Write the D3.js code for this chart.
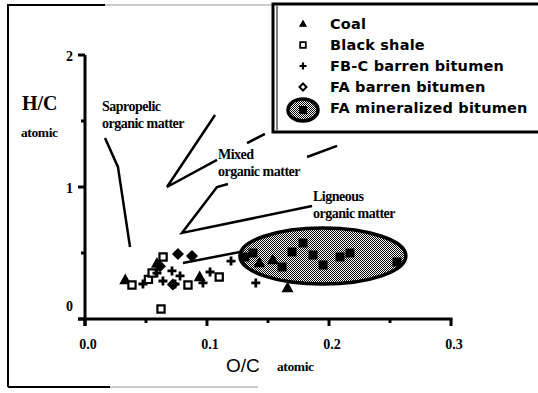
<!DOCTYPE html>
<html>
<head>
<meta charset="utf-8">
<script src="https://cdn.jsdelivr.net/npm/d3@7"></script>
<style>
  body { margin: 0; background: #fff; }
  svg { display: block; }
  .serif { font-family: "Liberation Serif", "DejaVu Serif", serif; font-weight: bold; }
  .sans { font-family: "Liberation Sans", Arial, sans-serif; }
  .chicago { font-family: "DejaVu Sans", sans-serif; font-weight: bold; }
</style>
</head>
<body>
<figure id="chart" style="margin:0"></figure>
<script>
// O/C atomic (x) vs H/C atomic (y)
const coal = [[0.033, 0.295], [0.059, 0.42], [0.094, 0.318], [0.166, 0.235], [0.143, 0.424], [0.154, 0.447]];
const blackShale = [[0.0385, 0.258], [0.052, 0.30], [0.055, 0.348], [0.064, 0.47], [0.0844, 0.258], [0.110, 0.318], [0.0623, 0.076]];
const fbcBarren = [[0.0475, 0.265], [0.059, 0.348], [0.0713, 0.364], [0.0779, 0.326], [0.0639, 0.288], [0.0738, 0.265], [0.0967, 0.273], [0.1025, 0.356], [0.1197, 0.439], [0.140, 0.273]];
const faBarren = [[0.0762, 0.492], [0.0877, 0.477], [0.0615, 0.40], [0.072, 0.262]];
const faMineralized = [[0.1787, 0.576], [0.1697, 0.508], [0.1869, 0.485], [0.1951, 0.409], [0.209, 0.470], [0.2172, 0.50], [0.2557, 0.432], [0.131, 0.47], [0.1615, 0.394], [0.1377, 0.50]];

// ellipse around mineralized bitumen: centre, radii (data units)
const ellipseCentre = [0.195, 0.477];
const ellipseRadii = [0.068, 0.212];

const xTicks = [0, 0.05, 0.1, 0.15, 0.2, 0.25, 0.3];
const xLabels = [0, 0.1, 0.2, 0.3];
const yTicks = [0, 0.5, 1, 1.5, 2];
const yLabels = [0, 1, 2];

const legendItems = ["Coal", "Black shale", "FB-C barren bitumen", "FA barren bitumen", "FA mineralized bitumen"];

// field annotations (data units)
const fieldLines = [
  [[0.0164, 1.371], [0.027, 1.152], [0.0369, 0.545]],
  [[0.1066, 1.545], [0.0672, 1.0], [0.1082, 1.205]],
  [[0.1172, 1.023], [0.1082, 1.0], [0.0795, 0.652], [0.1861, 0.856]],
  [[0.1328, 1.333], [0.1475, 1.402]],
  [[0.182, 1.227], [0.2066, 1.311]],
  [[0.0803, 0.424], [0.127, 0.508]]
];
const fieldLabels = [
  { x: 0.0139, y: 1.576, lines: ["Sapropelic", "organic matter"] },
  { x: 0.1090, y: 1.212, lines: ["Mixed", "organic matter"] },
  { x: 0.1869, y: 0.894, lines: ["Ligneous", "organic matter"] }
];

const W = 538, H = 393;
const svg = d3.select("#chart").append("svg").attr("width", W).attr("height", H);

const defs = svg.append("defs");
const pat = defs.append("pattern").attr("id", "dots")
  .attr("patternUnits", "userSpaceOnUse").attr("width", 2).attr("height", 2);
pat.append("rect").attr("width", 2).attr("height", 2).attr("fill", "#fff");
pat.append("rect").attr("width", 1).attr("height", 1).attr("fill", "#000");
pat.append("rect").attr("x", 1).attr("y", 1).attr("width", 1).attr("height", 1).attr("fill", "#000");

const x = d3.scaleLinear().domain([0, 0.3]).range([85, 451]);
const y = d3.scaleLinear().domain([0, 2]).range([319, 55]);

// outer frame (scanned figure border)
svg.append("path").attr("d", "M8,387V5H105").attr("fill", "none").attr("stroke", "#000").attr("stroke-width", 2);
svg.append("path").attr("d", "M105,5H272").attr("stroke", "#999").attr("stroke-width", 1);
svg.append("path").attr("d", "M8,387H110").attr("stroke", "#000").attr("stroke-width", 2);
svg.append("path").attr("d", "M110,387H258").attr("stroke", "#999").attr("stroke-width", 1);

// axes
const g = svg.append("g");
g.append("line").attr("x1", x(0)).attr("x2", x(0)).attr("y1", y(2)).attr("y2", y(0) + 7)
  .attr("stroke", "#000").attr("stroke-width", 3);
g.append("line").attr("x1", x(0) - 7).attr("x2", x(0.3) + 1.5).attr("y1", y(0)).attr("y2", y(0))
  .attr("stroke", "#000").attr("stroke-width", 3);
g.selectAll(".xt").data(xTicks).enter().append("line")
  .attr("x1", d => x(d)).attr("x2", d => x(d))
  .attr("y1", y(0)).attr("y2", d => y(0) + (d * 10 % 1 === 0 ? 7 : 4))
  .attr("stroke", "#000").attr("stroke-width", 3);
g.selectAll(".yt").data(yTicks).enter().append("line")
  .attr("y1", d => y(d)).attr("y2", d => y(d))
  .attr("x1", x(0)).attr("x2", d => x(0) - (d % 1 === 0 ? 7 : 4))
  .attr("stroke", "#000").attr("stroke-width", 3);
g.selectAll(".xl").data(xLabels).enter().append("text").attr("class", "serif")
  .attr("x", d => x(d) + 3).attr("y", y(0) + 30).attr("text-anchor", "middle")
  .attr("font-size", 14).text(d => d.toFixed(1));
g.selectAll(".yl").data(yLabels).enter().append("text").attr("class", "serif")
  .attr("x", x(0) - 12).attr("y", d => d === 0 ? y(d) - 8 : y(d) + 6).attr("text-anchor", "end")
  .attr("font-size", 14).text(d => d);

svg.append("text").attr("class", "serif").attr("x", 22).attr("y", 110)
  .attr("font-size", 20).text("H/C");
svg.append("text").attr("class", "serif").attr("x", 21).attr("y", 137)
  .attr("font-size", 13.5).attr("letter-spacing", -0.4).text("atomic");
svg.append("text").attr("class", "sans").attr("x", 226).attr("y", 372)
  .attr("font-size", 19).text("O/C");
svg.append("text").attr("class", "serif").attr("x", 277).attr("y", 371)
  .attr("font-size", 13.5).attr("letter-spacing", -0.4).text("atomic");

// field lines and labels
const line = d3.line().x(d => x(d[0])).y(d => y(d[1]));
svg.selectAll(".field").data(fieldLines).enter().append("path")
  .attr("d", line).attr("fill", "none").attr("stroke", "#000").attr("stroke-width", 2.5);
fieldLabels.forEach(f => {
  f.lines.forEach((t, i) => {
    svg.append("text").attr("class", "serif").attr("x", x(f.x)).attr("y", y(f.y) + i * 17)
      .attr("font-size", 14).attr("letter-spacing", -0.5).text(t);
  });
});

// mineralized ellipse
svg.append("ellipse")
  .attr("cx", x(ellipseCentre[0])).attr("cy", y(ellipseCentre[1]))
  .attr("rx", x(ellipseCentre[0] + ellipseRadii[0]) - x(ellipseCentre[0]))
  .attr("ry", y(ellipseCentre[1] - ellipseRadii[1]) - y(ellipseCentre[1]))
  .attr("fill", "url(#dots)").attr("stroke", "#000").attr("stroke-width", 3.5);

// marker shapes
function tri(s) { return `M0,${-s}L${s * 0.95},${s * 0.7}L${-s * 0.95},${s * 0.7}Z`; }
function sq(s) { return `M${-s},${-s}H${s}V${s}H${-s}Z`; }
function plus(s) { return `M${-s},0H${s}M0,${-s}V${s}`; }
function diam(s) { return `M0,${-s}L${s},0L0,${s}L${-s},0Z`; }

const pts = svg.append("g");
pts.selectAll(".coal").data(coal).enter().append("path")
  .attr("transform", d => `translate(${x(d[0])},${y(d[1])})`).attr("d", tri(5))
  .attr("fill", "#000").attr("stroke", "#000").attr("stroke-width", 1.5);
pts.selectAll(".shale").data(blackShale).enter().append("path")
  .attr("transform", d => `translate(${x(d[0])},${y(d[1])})`).attr("d", sq(3.6))
  .attr("fill", "#fff").attr("stroke", "#000").attr("stroke-width", 2.2);
pts.selectAll(".fbc").data(fbcBarren).enter().append("path")
  .attr("transform", d => `translate(${x(d[0])},${y(d[1])})`).attr("d", plus(4.5))
  .attr("fill", "none").attr("stroke", "#000").attr("stroke-width", 2.8);
pts.selectAll(".fa").data(faBarren).enter().append("path")
  .attr("transform", d => `translate(${x(d[0])},${y(d[1])})`).attr("d", diam(5))
  .attr("fill", "#000").attr("stroke", "#000").attr("stroke-width", 1.5).attr("stroke-linejoin", "round");
pts.selectAll(".fam").data(faMineralized).enter().append("path")
  .attr("transform", d => `translate(${x(d[0])},${y(d[1])})`).attr("d", sq(4.5))
  .attr("fill", "#000");

// legend
const lg = svg.append("g");
lg.append("rect").attr("x", 273).attr("y", 4).attr("width", 280).attr("height", 128)
  .attr("fill", "#fff").attr("stroke", "#000").attr("stroke-width", 3);
lg.append("line").attr("x1", 277).attr("x2", 277).attr("y1", 6).attr("y2", 130)
  .attr("stroke", "#000").attr("stroke-width", 1);
const rowY = i => 24 + i * 21;
legendItems.forEach((t, i) => {
  lg.append("text").attr("class", "chicago").attr("x", 330).attr("y", rowY(i) + 5)
    .attr("font-size", 14.5).attr("letter-spacing", 0.2).text(t);
});
lg.append("path").attr("transform", `translate(303,${rowY(0)})`).attr("d", tri(3.2))
  .attr("fill", "#000").attr("stroke", "#000").attr("stroke-width", 1.2);
lg.append("path").attr("transform", `translate(303,${rowY(1)})`).attr("d", sq(2.8))
  .attr("fill", "#fff").attr("stroke", "#000").attr("stroke-width", 1.8);
lg.append("path").attr("transform", `translate(303,${rowY(2)})`).attr("d", plus(3.5))
  .attr("fill", "none").attr("stroke", "#000").attr("stroke-width", 2.2);
lg.append("path").attr("transform", `translate(303,${rowY(3)})`).attr("d", diam(3.5))
  .attr("fill", "#fff").attr("stroke", "#000").attr("stroke-width", 2);
lg.append("ellipse").attr("cx", 303).attr("cy", rowY(4) + 2).attr("rx", 15).attr("ry", 11)
  .attr("fill", "url(#dots)").attr("stroke", "#000").attr("stroke-width", 3.5);
lg.append("path").attr("transform", `translate(303,${rowY(4) + 2})`).attr("d", sq(4))
  .attr("fill", "#000");
</script>
</body>
</html>
